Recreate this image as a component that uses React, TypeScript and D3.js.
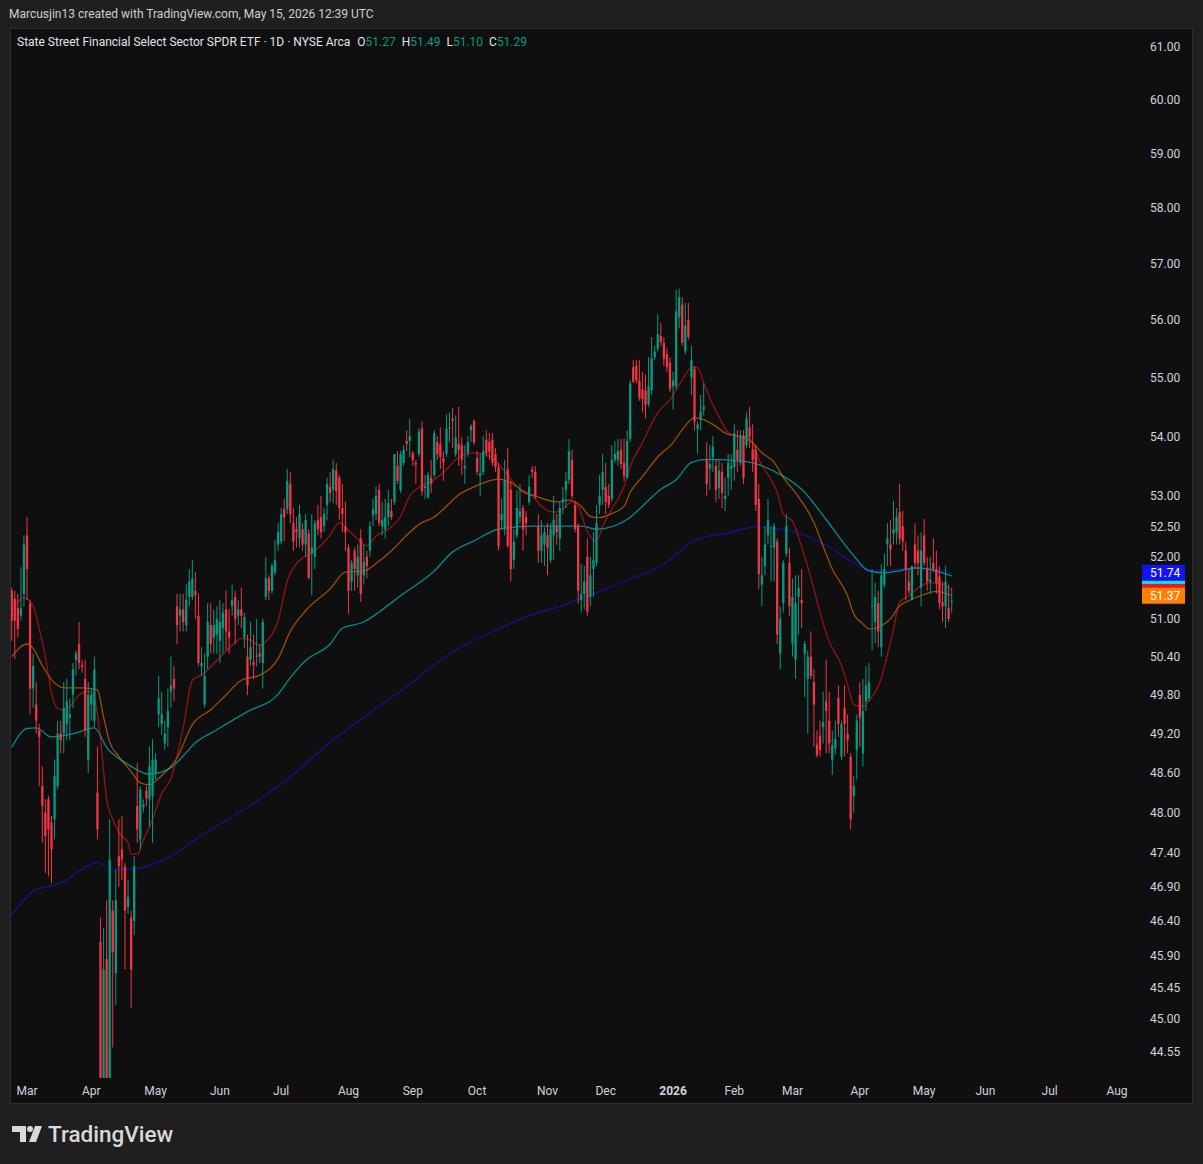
import React, { useEffect, useRef } from 'react';
import * as d3 from 'd3';

const W = 1203;
const H = 1164;

// daily sessions, first bar = 2025-02-24, last bar = 2026-05-14
// [open, high, low, close]
const ohlc: number[][] = [
  // Feb 2025
  [51.45, 51.5, 50.65, 50.97], [51.32, 51.45, 50.36, 50.97], [51.17, 51.4, 50.7, 50.84], [51.05, 51.83, 50.97, 51.17], [51.4, 52.35, 51.2, 52.2],
  // Mar
  [52.35, 52.65, 51.3, 51.8], [51.25, 51.3, 49.5, 49.9], [49.9, 50.45, 49.6, 50.25], [49.65, 50.0, 49.2, 49.4], [49.25, 49.35, 48.4, 49.15],
  [48.4, 48.7, 47.55, 48.1], [48.0, 48.2, 47.1, 47.65], [48.2, 48.25, 47.05, 47.75], [47.85, 47.95, 46.95, 47.45], [47.9, 48.8, 47.6, 48.55],
  [48.4, 49.4, 48.35, 49.2], [49.2, 49.4, 48.9, 49.1], [49.2, 50.0, 48.9, 49.6], [49.35, 50.05, 49.1, 49.7], [49.45, 49.75, 49.1, 49.5],
  [49.8, 50.3, 49.6, 50.2], [50.35, 50.5, 50.1, 50.45], [50.6, 50.95, 50.2, 50.3], [50.27, 50.35, 50.15, 50.24], [50.05, 50.35, 49.15, 49.25],
  [48.8, 50.0, 48.6, 49.8],
  // Apr
  [49.65, 49.9, 49.4, 49.8], [49.4, 50.4, 49.3, 50.2], [48.3, 49.0, 47.6, 47.75], [46.1, 46.45, 43.6, 44.0], [43.8, 46.3, 42.8, 45.7],
  [45.85, 46.7, 43.6, 43.9], [44.0, 47.9, 43.7, 47.3], [46.55, 46.7, 44.6, 45.95], [45.65, 47.15, 45.2, 46.7], [47.35, 47.9, 46.9, 47.2],
  [47.45, 47.95, 47.0, 47.3], [47.2, 47.25, 45.7, 46.55], [46.6, 47.0, 46.5, 46.75], [46.45, 46.55, 45.15, 45.7], [46.4, 47.35, 46.2, 47.2],
  [48.1, 48.75, 47.55, 47.75], [47.6, 48.4, 47.45, 48.35], [48.08, 48.2, 48.0, 48.12], [48.33, 48.4, 48.1, 48.22], [48.2, 49.0, 47.78, 48.7],
  [48.25, 49.12, 47.55, 48.8],
  // May
  [48.6, 48.9, 48.5, 48.8], [49.5, 50.1, 49.3, 49.75], [49.35, 49.85, 49.18, 49.5], [49.05, 49.4, 48.95, 49.2], [49.3, 49.9, 49.0, 49.55],
  [49.85, 50.4, 49.6, 49.95], [50.05, 50.25, 49.7, 49.9], [51.2, 51.4, 50.6, 50.9], [51.05, 51.4, 50.8, 51.15], [51.15, 51.4, 50.8, 50.95],
  [50.9, 51.55, 50.8, 51.3], [51.35, 51.8, 51.2, 51.6], [51.35, 51.95, 51.3, 51.65], [51.45, 51.75, 51.0, 51.38], [51.05, 51.4, 50.25, 50.3],
  [50.25, 50.55, 50.1, 50.3], [49.65, 50.45, 49.6, 50.1], [50.4, 51.25, 50.2, 50.95], [50.9, 51.25, 50.45, 50.6], [50.7, 51.15, 50.45, 50.9],
  [50.75, 51.2, 50.45, 51.0],
  // Jun
  [50.65, 51.3, 50.3, 50.95], [50.85, 51.25, 50.45, 51.1], [51.15, 51.45, 50.5, 50.8], [50.8, 51.15, 50.45, 50.7], [51.2, 51.55, 51.05, 51.3],
  [51.35, 51.45, 50.6, 51.0], [51.05, 51.3, 50.9, 51.15], [51.15, 51.5, 50.85, 51.05], [50.7, 51.1, 50.53, 51.03], [50.4, 50.75, 49.8, 49.95],
  [50.35, 50.95, 50.25, 50.55], [50.32, 50.75, 50.05, 50.27], [50.4, 51.0, 50.25, 50.42], [50.45, 50.6, 50.3, 50.4], [50.3, 51.0, 49.9, 50.95],
  [51.35, 52.0, 51.3, 51.65], [51.65, 51.7, 51.3, 51.45], [51.45, 51.9, 51.4, 51.85], [51.75, 52.27, 51.7, 51.95], [52.2, 52.55, 52.1, 52.4],
  // Jul
  [52.25, 52.8, 52.2, 52.7], [52.78, 52.95, 52.25, 52.65], [52.78, 53.45, 52.7, 53.25], [53.2, 53.4, 52.55, 52.7], [52.55, 52.8, 52.1, 52.25],
  [52.45, 52.65, 52.15, 52.4], [52.3, 52.85, 52.15, 52.7], [52.45, 52.55, 52.1, 52.2], [52.2, 52.7, 52.0, 52.6], [52.38, 52.45, 51.65, 51.65],
  [52.05, 52.7, 51.37, 52.15], [52.0, 52.6, 51.8, 52.55], [52.6, 52.85, 52.35, 52.45], [52.65, 53.0, 52.3, 52.4], [52.5, 52.8, 52.4, 52.7],
  [52.85, 53.3, 52.6, 53.2], [53.15, 53.39, 52.9, 53.05], [53.1, 53.6, 52.88, 53.45], [53.42, 53.55, 52.85, 53.08], [53.3, 53.35, 52.6, 52.8],
  [52.8, 53.2, 52.4, 52.7], [52.5, 52.9, 52.1, 52.4],
  // Aug
  [52.15, 52.2, 51.08, 51.45], [51.6, 51.95, 51.45, 51.9], [52.1, 52.15, 51.45, 51.8], [51.7, 52.2, 51.5, 52.0], [52.3, 52.45, 51.27, 51.4],
  [51.7, 52.2, 51.55, 51.92], [52.0, 52.1, 51.65, 51.85], [52.1, 52.58, 52.0, 52.5], [52.68, 52.95, 52.5, 52.78], [52.7, 53.16, 52.6, 53.0],
  [53.1, 53.2, 52.5, 52.55], [52.5, 52.9, 52.35, 52.6], [52.45, 52.95, 52.3, 52.65], [52.65, 53.1, 52.5, 52.88], [52.75, 52.95, 52.6, 52.65],
  [52.9, 53.7, 52.85, 53.7], [53.5, 53.75, 53.2, 53.25], [53.1, 53.75, 53.05, 53.7], [53.55, 53.85, 53.5, 53.77], [53.92, 54.1, 53.75, 53.87],
  [53.92, 54.3, 53.65, 54.0],
  // Sep
  [53.72, 53.75, 53.5, 53.6], [53.55, 53.6, 53.2, 53.52], [53.7, 54.13, 53.65, 54.08], [54.13, 54.25, 53.0, 53.08], [53.13, 53.35, 52.95, 53.16],
  [52.98, 53.4, 52.95, 53.35], [53.3, 53.6, 53.05, 53.2], [53.35, 54.1, 53.3, 54.05], [53.9, 54.0, 53.6, 53.7], [53.87, 54.15, 53.45, 53.65],
  [53.63, 53.75, 53.25, 53.56], [53.7, 54.37, 53.65, 54.13], [54.13, 54.4, 53.9, 54.15], [54.3, 54.48, 53.8, 54.26], [53.7, 54.35, 53.65, 53.98],
  [53.87, 54.5, 53.5, 53.77], [53.85, 53.98, 53.35, 53.6], [53.46, 53.85, 53.2, 53.5], [53.72, 54.0, 53.65, 53.9], [54.1, 54.2, 53.9, 54.17],
  [54.26, 54.28, 53.85, 53.9],
  // Oct
  [53.63, 53.75, 53.35, 53.4], [53.33, 53.7, 53.0, 53.38], [53.4, 54.0, 53.35, 53.75], [53.94, 54.1, 53.65, 53.72], [53.9, 54.05, 53.6, 53.74],
  [53.94, 54.05, 53.5, 53.55], [53.7, 53.8, 53.4, 53.48], [53.48, 53.55, 52.1, 52.17], [52.6, 52.95, 52.45, 52.7], [52.45, 53.6, 52.35, 53.27],
  [53.45, 53.8, 52.15, 52.18], [53.1, 53.25, 51.6, 51.8], [51.95, 52.45, 51.8, 52.25], [52.35, 53.1, 52.3, 52.8], [52.65, 53.2, 52.55, 52.75],
  [52.8, 52.85, 52.1, 52.45], [52.65, 52.75, 52.35, 52.55], [52.9, 53.35, 52.85, 53.15], [53.44, 53.5, 53.3, 53.4], [53.4, 53.5, 52.95, 53.0],
  [52.5, 52.7, 51.9, 52.1], [52.1, 52.6, 51.9, 52.35], [52.2, 52.48, 51.85, 52.4],
  // Nov
  [52.35, 52.55, 51.7, 52.15], [51.95, 52.55, 51.9, 52.45], [52.35, 53.0, 51.95, 52.6], [52.5, 52.7, 52.2, 52.4], [52.3, 52.9, 52.1, 52.8],
  [52.9, 53.15, 52.7, 52.95], [53.1, 53.4, 52.8, 53.25], [53.27, 53.95, 53.2, 53.75], [53.6, 53.77, 52.95, 53.0], [52.85, 52.9, 52.4, 52.45],
  [52.5, 52.55, 51.24, 51.45], [51.3, 51.88, 51.1, 51.4], [51.4, 51.85, 51.15, 51.6], [52.0, 52.3, 51.05, 51.12], [51.35, 52.0, 51.2, 51.7],
  [51.8, 52.4, 51.35, 51.95], [51.9, 52.85, 51.85, 52.55], [52.85, 53.35, 52.7, 53.0], [53.1, 53.7, 52.85, 53.4],
  // Dec
  [53.15, 53.55, 52.7, 52.9], [53.0, 53.2, 52.8, 52.85], [52.95, 53.85, 52.9, 53.6], [53.6, 53.92, 53.55, 53.7], [53.6, 53.95, 53.5, 53.75],
  [53.77, 53.95, 53.45, 53.53], [53.55, 53.96, 53.25, 53.33], [53.3, 54.1, 53.28, 53.92], [53.95, 54.95, 53.9, 54.9], [55.18, 55.3, 54.9, 54.93],
  [55.2, 55.31, 54.9, 54.95], [54.95, 55.3, 54.6, 54.65], [54.8, 55.1, 54.4, 54.63], [54.78, 55.05, 54.3, 54.52], [54.55, 55.35, 54.5, 54.85],
  [54.78, 55.7, 54.7, 55.33], [55.35, 55.55, 55.3, 55.45], [55.5, 56.1, 55.45, 55.75], [55.72, 55.95, 55.55, 55.62], [55.6, 55.7, 55.2, 55.32],
  [55.4, 55.5, 55.1, 55.18], [55.25, 55.35, 54.75, 54.8],
  // Jan 2026
  [54.85, 55.1, 54.45, 54.95], [54.85, 56.53, 54.8, 56.15], [56.05, 56.55, 55.85, 56.4], [56.27, 56.4, 55.55, 55.6], [55.45, 56.3, 55.4, 55.9],
  [56.0, 56.3, 55.65, 55.7], [55.0, 55.55, 54.7, 55.3], [55.15, 55.2, 54.1, 54.25], [54.12, 54.25, 53.7, 54.2], [54.28, 54.7, 54.1, 54.42],
  [54.45, 54.9, 54.35, 54.5], [53.6, 53.9, 53.0, 53.2], [53.45, 53.85, 53.1, 53.53], [53.65, 54.0, 53.4, 53.82], [53.5, 53.6, 52.9, 53.1],
  [53.13, 53.6, 52.95, 53.42], [53.4, 53.55, 52.8, 53.05], [52.95, 53.3, 52.75, 53.0], [53.3, 53.7, 53.0, 53.55], [53.45, 53.7, 53.1, 53.5],
  // Feb
  [53.48, 54.2, 53.25, 54.05], [53.77, 54.1, 53.4, 53.6], [53.55, 54.1, 53.5, 54.0], [54.0, 54.1, 53.2, 53.3], [53.85, 54.4, 53.8, 54.3],
  [54.15, 54.5, 53.8, 54.0], [53.78, 54.2, 53.4, 53.6], [53.77, 53.85, 52.75, 52.85], [52.95, 53.2, 51.48, 51.72], [51.55, 52.0, 51.2, 51.7],
  [51.85, 52.5, 51.7, 52.2], [52.35, 52.95, 52.2, 52.6], [52.16, 52.5, 51.6, 52.18], [52.15, 52.55, 51.6, 52.5], [52.25, 52.3, 50.6, 50.75],
  [50.45, 51.2, 50.2, 51.0], [51.25, 51.95, 51.1, 51.9], [52.05, 52.7, 52.0, 52.5], [51.9, 52.15, 51.05, 51.2],
  // Mar
  [50.6, 51.65, 50.4, 51.35], [50.35, 51.7, 50.05, 51.25], [51.35, 51.7, 50.75, 51.5], [51.3, 51.8, 50.85, 51.25], [50.45, 50.65, 49.77, 50.6],
  [50.05, 50.5, 49.2, 50.4], [50.4, 50.8, 50.05, 50.1], [50.0, 50.2, 49.0, 49.65], [49.03, 49.25, 48.83, 48.87], [49.17, 49.4, 48.85, 48.95],
  [49.3, 49.85, 49.05, 49.38], [49.7, 50.35, 48.9, 49.55], [49.4, 49.85, 48.9, 49.05], [48.8, 49.25, 48.57, 49.02], [48.98, 49.4, 48.88, 49.12],
  [49.75, 49.95, 49.15, 49.35], [48.85, 49.4, 48.8, 49.35], [49.6, 49.95, 48.85, 49.35], [49.2, 49.5, 48.9, 49.1], [48.85, 48.9, 47.75, 47.9],
  [48.25, 48.55, 48.0, 48.4], [48.95, 49.5, 48.5, 49.4],
  // Apr
  [49.8, 50.0, 49.0, 49.45], [48.9, 50.05, 48.7, 49.55], [49.7, 50.25, 49.55, 49.95], [49.75, 50.3, 49.7, 50.0], [51.2, 51.8, 50.5, 51.22],
  [50.95, 51.58, 50.61, 51.35], [51.25, 51.45, 50.55, 50.8], [50.55, 51.88, 50.4, 51.7], [51.55, 52.05, 51.5, 51.8], [52.2, 52.55, 51.85, 52.3],
  [52.2, 52.6, 51.85, 52.12], [52.38, 52.92, 52.2, 52.45], [52.4, 52.8, 52.2, 52.65], [52.73, 53.2, 52.2, 52.3], [52.5, 52.75, 52.1, 52.25],
  [52.1, 52.25, 51.3, 51.8], [51.6, 51.8, 51.4, 51.45], [51.3, 51.85, 51.3, 51.85], [52.2, 52.55, 51.8, 51.9], [52.1, 52.35, 51.7, 51.9],
  [51.5, 52.4, 51.2, 52.1],
  // May
  [52.35, 52.62, 51.85, 51.9], [51.8, 52.0, 51.45, 51.6], [51.6, 52.0, 51.4, 51.63], [51.9, 52.3, 51.75, 51.8], [51.8, 52.1, 51.4, 51.57],
  [51.68, 51.85, 51.15, 51.25], [51.27, 51.6, 50.95, 51.2], [51.2, 51.85, 50.85, 51.6], [51.18, 51.55, 50.95, 51.0], [51.27, 51.49, 51.1, 51.29],
];

// moving averages: [bar index, price]
const maFast = [
  [0, 51.13], [4, 51.34], [7, 51.21], [9, 50.84], [11, 50.4], [13, 49.83], [15, 49.59], [17, 49.56], [19, 49.62], [22, 49.8],
  [25, 49.86], [27, 49.75], [29, 49.12], [31, 48.2], [33, 47.9], [35, 47.7], [38, 47.55], [39, 47.38], [41, 47.38], [43, 47.59],
  [46, 47.9], [49, 48.29], [52, 48.51], [56, 49.29], [59, 50.03], [62, 50.11], [67, 50.34], [72, 50.58], [75, 50.69], [78, 50.66],
  [81, 50.58], [83, 50.64], [87, 50.97], [90, 51.61], [94, 51.94], [98, 52.06], [104, 52.35], [107, 52.56], [109, 52.48], [113, 52.29],
  [116, 52.18], [119, 52.34], [123, 52.45], [127, 52.66], [130, 53.0], [133, 53.14], [138, 53.27], [142, 53.44], [146, 53.65], [151, 53.72],
  [155, 53.69], [159, 53.53], [164, 53.22], [167, 53.06], [170, 53.0], [173, 52.83], [177, 52.73], [180, 52.78], [183, 52.9], [185, 52.83],
  [188, 52.41], [191, 52.26], [193, 52.5], [196, 52.78], [200, 53.16], [202, 53.49], [206, 53.89], [211, 54.4], [215, 54.62], [219, 54.96],
  [222, 55.17], [224, 55.17], [226, 54.91], [228, 54.65], [231, 54.33], [234, 54.06], [237, 54.0], [240, 54.0], [242, 53.89], [244, 53.61],
  [248, 53.27], [250, 53.06], [252, 52.7], [255, 52.58], [258, 52.16], [262, 51.48], [264, 51.1], [267, 50.64], [271, 50.26], [273, 49.96],
  [275, 49.65], [278, 49.62], [280, 49.71], [284, 50.06], [286, 50.43], [288, 50.84], [290, 51.27], [293, 51.37], [297, 51.53], [300, 51.58],
  [303, 51.56], [307, 51.48],
];
const maMid = [
  [0, 50.4], [5, 50.6], [7, 50.53], [10, 50.26], [13, 50.04], [17, 49.91], [23, 49.91], [28, 49.88], [30, 49.46], [32, 49.07],
  [35, 48.85], [39, 48.62], [42, 48.45], [45, 48.42], [48, 48.52], [54, 48.83], [59, 49.34], [65, 49.57], [70, 49.8], [75, 50.03],
  [81, 50.11], [87, 50.37], [91, 50.8], [96, 51.13], [104, 51.48], [109, 51.75], [115, 51.77], [120, 51.93], [124, 52.1], [129, 52.35],
  [133, 52.53], [138, 52.65], [142, 52.83], [146, 53.02], [151, 53.15], [159, 53.28], [163, 53.22], [167, 53.08], [172, 52.98], [178, 52.9],
  [182, 52.93], [186, 52.83], [189, 52.66], [192, 52.64], [195, 52.69], [200, 52.83], [202, 53.06], [206, 53.32], [211, 53.65], [216, 53.89],
  [219, 54.11], [223, 54.31], [226, 54.28], [229, 54.2], [234, 54.03], [238, 54.0], [242, 53.89], [245, 53.72], [249, 53.56], [252, 53.31],
  [257, 52.98], [262, 52.56], [265, 52.17], [268, 51.8], [273, 51.37], [275, 51.08], [278, 50.92], [280, 50.84], [284, 50.89], [287, 51.0],
  [290, 51.21], [293, 51.29], [298, 51.39], [302, 51.44], [307, 51.37],
];
const maSlow = [
  [0, 48.99], [5, 49.28], [8, 49.29], [13, 49.15], [20, 49.2], [27, 49.29], [31, 48.99], [38, 48.73], [45, 48.58], [52, 48.68],
  [56, 48.86], [60, 49.06], [67, 49.26], [77, 49.54], [87, 49.81], [91, 50.07], [96, 50.34], [104, 50.6], [108, 50.85], [115, 50.95],
  [120, 51.11], [127, 51.37], [138, 51.77], [144, 52.08], [151, 52.26], [159, 52.45], [170, 52.5], [178, 52.5], [186, 52.5], [191, 52.45],
  [201, 52.61], [206, 52.83], [212, 53.11], [217, 53.27], [222, 53.56], [227, 53.61], [240, 53.57], [249, 53.41], [258, 53.11], [266, 52.61],
  [274, 52.08], [280, 51.77], [285, 51.74], [296, 51.82], [307, 51.69],
];
const maLong = [
  [-1, 46.44], [5, 46.75], [8, 46.86], [13, 46.91], [18, 47.0], [22, 47.13], [28, 47.26], [31, 47.19], [34, 47.16], [40, 47.16],
  [46, 47.23], [52, 47.35], [61, 47.63], [78, 48.11], [90, 48.5], [104, 49.07], [117, 49.52], [130, 49.97], [140, 50.34], [147, 50.56],
  [159, 50.84], [169, 51.05], [179, 51.2], [192, 51.44], [202, 51.64], [212, 51.85], [216, 52.0], [222, 52.24], [228, 52.34], [234, 52.39],
  [240, 52.47], [243, 52.49], [248, 52.47], [253, 52.44], [258, 52.37], [264, 52.24], [268, 52.13], [274, 51.93], [279, 51.8], [284, 51.77],
  [290, 51.8], [296, 51.82], [301, 51.8], [307, 51.74],
];

const priceTicks = [61, 60, 59, 58, 57, 56, 55, 54, 53, 52.5, 52, 51, 50.4, 49.8, 49.2, 48.6, 48, 47.4, 46.9, 46.4, 45.9, 45.45, 45, 44.55];
const monthNames = ['Jan', 'Feb', 'Mar', 'Apr', 'May', 'Jun', 'Jul', 'Aug', 'Sep', 'Oct', 'Nov', 'Dec'];
const holidays = [
  '2025-04-18', '2025-05-26', '2025-06-19', '2025-07-04', '2025-09-01', '2025-11-27', '2025-12-25',
  '2026-01-01', '2026-01-19', '2026-02-16', '2026-04-03', '2026-05-25', '2026-06-19', '2026-07-03',
];

const lastOHLC = { O: '51.27', H: '51.49', L: '51.10', C: '51.29' };

const GREEN = '#089981';
const RED = '#f23645';
const FONT = 'Roboto, "Noto Sans", sans-serif';

// NYSE sessions between two dates
const tradingDays = (from: string, to: string) => {
  const out: Date[] = [];
  const d = new Date(from + 'T00:00:00Z');
  const end = new Date(to + 'T00:00:00Z');
  while (d <= end) {
    const wd = d.getUTCDay();
    const iso = d.toISOString().slice(0, 10);
    if (wd !== 0 && wd !== 6 && !holidays.includes(iso)) out.push(new Date(d));
    d.setUTCDate(d.getUTCDate() + 1);
  }
  return out;
};

const App = () => {
  const svgRef = useRef(null);

  useEffect(() => {
    if (!svgRef.current) return;
    const svg = d3.select(svgRef.current);
    svg.selectAll('*').remove();

    const plot = { left: 10, right: 1139, top: 29, bottom: 1078 };

    const x = d3.scaleLinear().domain([5, 307]).range([27, 951.7]);
    const y = d3.scaleLog().domain([44.55, 61]).range([1051, 46.6]);

    // backgrounds
    svg.append('rect').attr('width', W).attr('height', H).attr('fill', '#1f1f1f');
    svg.append('rect')
      .attr('x', 10.5).attr('y', 28.5).attr('width', 1182).attr('height', 1075)
      .attr('fill', '#0f0f0f').attr('stroke', '#2e2e2e').attr('stroke-width', 1);

    svg.append('text')
      .attr('x', 9).attr('y', 18)
      .attr('font-family', FONT).attr('font-size', 12).attr('fill', '#cfcfcf')
      .text('Marcusjin13 created with TradingView.com, May 15, 2026 12:39 UTC');

    const defs = svg.append('defs');
    defs.append('clipPath').attr('id', 'plotClip')
      .append('rect')
      .attr('x', plot.left + 1).attr('y', plot.top)
      .attr('width', plot.right - plot.left - 1).attr('height', plot.bottom - plot.top);

    const g = svg.append('g').attr('clip-path', 'url(#plotClip)');

    // moving averages
    const line = d3.line<number[]>()
      .x((d) => x(d[0]))
      .y((d) => y(d[1]))
      .curve(d3.curveMonotoneX);

    const maStyles = [
      { data: maLong, color: '#1414f0' },
      { data: maSlow, color: '#00e0ec' },
      { data: maMid, color: '#ff7d00' },
      { data: maFast, color: '#f21818' },
    ];
    maStyles.forEach((m) => {
      g.append('path')
        .attr('d', line(m.data))
        .attr('fill', 'none')
        .attr('stroke', m.color)
        .attr('stroke-opacity', 0.58)
        .attr('stroke-width', 1.3);
    });

    // candles
    const bodyW = 2.3;
    const candles = g.append('g');
    ohlc.forEach((d, k) => {
      const [o, h, l, c] = d;
      const col = c >= o ? GREEN : RED;
      const cx = x(k);
      candles.append('line')
        .attr('x1', cx).attr('x2', cx)
        .attr('y1', y(h)).attr('y2', y(l))
        .attr('stroke', col).attr('stroke-width', 1);
      const top = y(Math.max(o, c));
      const bot = y(Math.min(o, c));
      candles.append('rect')
        .attr('x', cx - bodyW / 2).attr('y', top)
        .attr('width', bodyW).attr('height', Math.max(1, bot - top))
        .attr('fill', col);
    });

    // price axis labels
    svg.append('g').selectAll('text')
      .data(priceTicks)
      .join('text')
      .attr('x', 1150).attr('y', (d) => y(d) + 4.5)
      .attr('font-family', FONT).attr('font-size', 12).attr('fill', '#d1d4dc')
      .text((d) => d.toFixed(2));

    // price tags for the averages (last values); the red and cyan ones sit
    // underneath the orange and blue tags, so only their edges show
    const tags = [
      { v: maFast[maFast.length - 1][1], fill: '#f21818', label: false },
      { v: maSlow[maSlow.length - 1][1], fill: '#00e5f0', label: false },
      { v: maMid[maMid.length - 1][1], fill: '#ff7f00', label: true },
      { v: maLong[maLong.length - 1][1], fill: '#1212f2', label: true },
    ];
    const tagG = svg.append('g');
    tags.forEach((t) => {
      const cy = y(t.v);
      tagG.append('rect')
        .attr('x', 1142).attr('y', cy - 8).attr('width', 43).attr('height', 16)
        .attr('fill', t.fill);
      if (t.label) {
        tagG.append('text')
          .attr('x', 1150).attr('y', cy + 4.5)
          .attr('font-family', FONT).attr('font-size', 12).attr('fill', '#ffffff')
          .text(t.v.toFixed(2));
      }
    });

    // time axis: first session of each month
    const days = tradingDays('2025-02-24', '2026-08-31');
    const ticks: { k: number; label: string; bold: boolean }[] = [];
    days.forEach((d, k) => {
      if (k === 0) return;
      if (d.getUTCMonth() !== days[k - 1].getUTCMonth()) {
        const m = d.getUTCMonth();
        ticks.push({ k, label: m === 0 ? String(d.getUTCFullYear()) : monthNames[m], bold: m === 0 });
      }
    });
    svg.append('g').selectAll('text')
      .data(ticks.filter((t) => x(t.k) > 15 && x(t.k) < 1130))
      .join('text')
      .attr('x', (d) => x(d.k)).attr('y', 1094.5)
      .attr('text-anchor', 'middle')
      .attr('font-family', FONT).attr('font-size', 12)
      .attr('font-weight', (d) => (d.bold ? 700 : 400))
      .attr('fill', '#d1d4dc')
      .text((d) => d.label);

    // legend line
    const title = svg.append('text')
      .attr('x', 17).attr('y', 46)
      .attr('font-family', FONT).attr('font-size', 12).attr('fill', '#e0e3eb');
    title.append('tspan').text('State Street Financial Select Sector SPDR ETF · 1D · NYSE Arca');
    Object.entries(lastOHLC).forEach(([k, v]) => {
      title.append('tspan').attr('dx', k === 'O' ? 7 : 6).text(k);
      title.append('tspan').attr('fill', GREEN).text(v);
    });

    // TradingView mark
    const logo = svg.append('g').attr('fill', '#d9d9d9');
    logo.append('path').attr('d', 'M12,1126 H26 V1142 H20 V1132 H12 Z');
    logo.append('circle').attr('cx', 30).attr('cy', 1129).attr('r', 3);
    logo.append('path').attr('d', 'M35,1126 H42 L36,1142 H29 Z');
    logo.append('text')
      .attr('x', 48).attr('y', 1142)
      .attr('font-family', FONT).attr('font-size', 22.5).attr('font-weight', 500)
      .text('TradingView');
  }, []);

  return (
    <svg
      ref={svgRef}
      width={W}
      height={H}
      style={{ position: 'absolute', left: 0, top: 0, display: 'block' }}
    />
  );
};

export default App;
